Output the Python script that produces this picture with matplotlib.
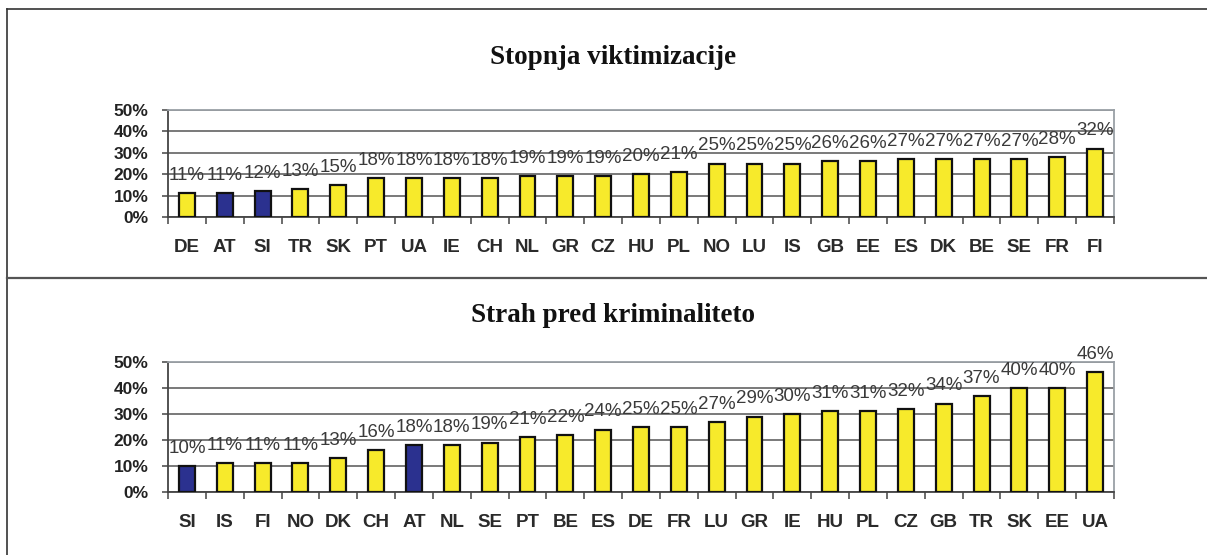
import numpy as np
import matplotlib.pyplot as plt
from matplotlib.lines import Line2D

# top chart: victimisation rate
top_title = 'Stopnja viktimizacije'
top_countries = ['DE', 'AT', 'SI', 'TR', 'SK', 'PT', 'UA', 'IE', 'CH', 'NL', 'GR', 'CZ', 'HU',
                 'PL', 'NO', 'LU', 'IS', 'GB', 'EE', 'ES', 'DK', 'BE', 'SE', 'FR', 'FI']
top_values = [11, 11, 12, 13, 15, 18, 18, 18, 18, 19, 19, 19, 20,
              21, 25, 25, 25, 26, 26, 27, 27, 27, 27, 28, 32]
top_highlight = ['AT', 'SI']

# bottom chart: fear of crime
bot_title = 'Strah pred kriminaliteto'
bot_countries = ['SI', 'IS', 'FI', 'NO', 'DK', 'CH', 'AT', 'NL', 'SE', 'PT', 'BE', 'ES', 'DE',
                 'FR', 'LU', 'GR', 'IE', 'HU', 'PL', 'CZ', 'GB', 'TR', 'SK', 'EE', 'UA']
bot_values = [10, 11, 11, 11, 13, 16, 18, 18, 19, 21, 22, 24, 25,
              25, 27, 29, 30, 31, 31, 32, 34, 37, 40, 40, 46]
bot_highlight = ['SI', 'AT']

W, H = 1207, 555
YELLOW = '#f7ea2b'
NAVY = '#2b318f'

fig = plt.figure(figsize=(W / 100, H / 100), dpi=100)


def px_axes(left, top, right, bottom):
    return fig.add_axes([left / W, 1 - bottom / H, (right - left) / W, (bottom - top) / H])


def draw(ax, countries, values, highlight):
    n = len(countries)
    x = np.arange(n)
    colors = [NAVY if c in highlight else YELLOW for c in countries]
    ax.bar(x, values, width=0.42, color=colors, edgecolor='#111111', linewidth=1.6, zorder=3)
    for xi, v in zip(x, values):
        ax.annotate(f'{v}%', (xi, v), xytext=(0, 9.5), textcoords='offset points',
                    ha='center', va='baseline', fontsize=13.5, color='#3a3a3a',
                    family='Liberation Sans', annotation_clip=False)
    ax.set_xlim(-0.5, n - 0.5)
    ax.set_ylim(0, 50)
    ax.set_yticks(np.arange(0, 51, 10))
    ax.set_yticklabels([f'{t}%' for t in range(0, 51, 10)], fontsize=12.5, fontweight='bold',
                       family='Liberation Sans', color='#222222')
    ax.yaxis.grid(True, color='#555555', linewidth=1.1, zorder=0)
    ax.set_axisbelow(True)
    ax.set_xticks(np.arange(-0.5, n, 1))
    ax.set_xticklabels([])
    ax.set_xticks(x, minor=True)
    ax.set_xticklabels(countries, minor=True, fontsize=13.5, fontweight='bold',
                       family='Liberation Sans', color='#2a2a2a')
    ax.tick_params(axis='x', which='major', length=5, width=1.1, color='#444444')
    ax.tick_params(axis='x', which='minor', length=0, pad=16)
    ax.tick_params(axis='y', length=4, width=1.1, color='#444444', pad=10)
    for s in ['left', 'bottom']:
        ax.spines[s].set_color('#444444')
        ax.spines[s].set_linewidth(1.3)
    for s in ['top', 'right']:
        ax.spines[s].set_color('#9aa0a6')
        ax.spines[s].set_linewidth(1.3)


ax1 = px_axes(168, 110, 1114, 217)
draw(ax1, top_countries, top_values, top_highlight)
ax2 = px_axes(168, 362, 1114, 492)
draw(ax2, bot_countries, bot_values, bot_highlight)

fig.text(613 / W, 1 - 57 / H, top_title, ha='center', va='center', fontsize=19.5,
         fontweight='bold', family='Liberation Serif', color='#111111')
fig.text(613 / W, 1 - 316 / H, bot_title, ha='center', va='center', fontsize=19.5,
         fontweight='bold', family='Liberation Serif', color='#111111')

# frame lines of the page
fig.add_artist(Line2D([7 / W, 1], [1 - 9 / H, 1 - 9 / H], color='#333333', linewidth=1.2))
fig.add_artist(Line2D([7 / W, 7 / W], [0, 1 - 9 / H], color='#333333', linewidth=1.2))
fig.add_artist(Line2D([7 / W, 1], [1 - 278 / H, 1 - 278 / H], color='#555555', linewidth=1.6))

plt.savefig('out.png', dpi=100)
